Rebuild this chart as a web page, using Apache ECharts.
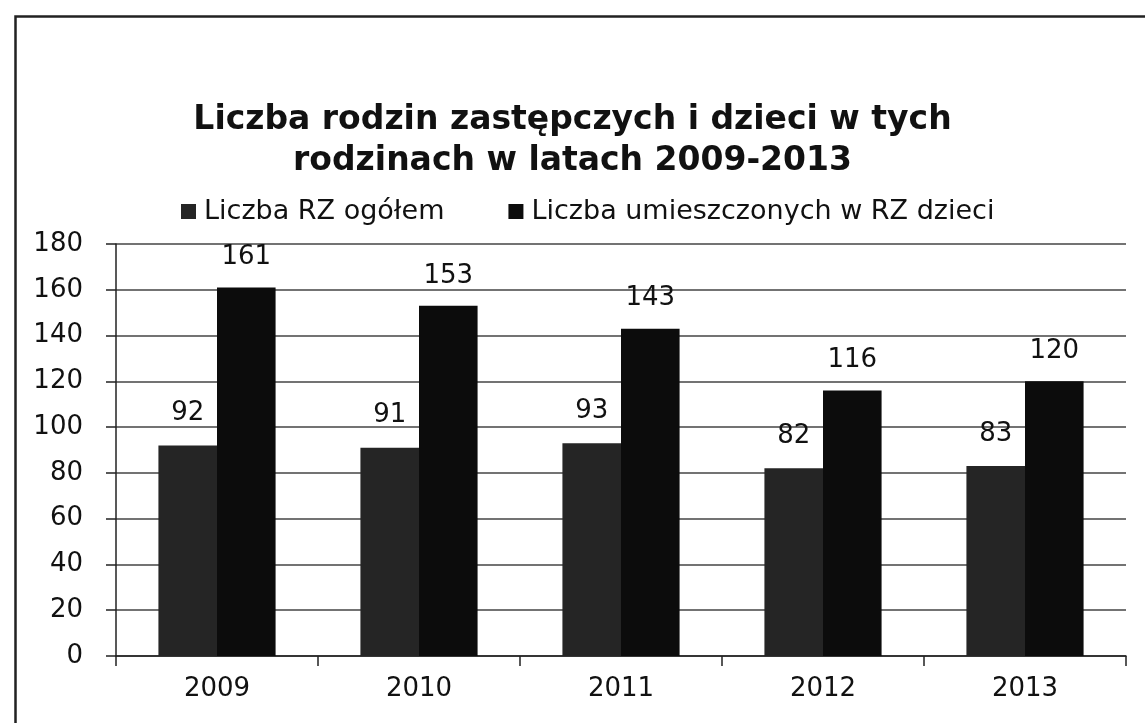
<!DOCTYPE html>
<html>
<head>
<meta charset="utf-8">
<script src="https://cdn.jsdelivr.net/npm/echarts@6/dist/echarts.min.js"></script>
<style>
  html, body { margin: 0; padding: 0; background: #fff; }
  #chart { width: 1145px; height: 723px; }
</style>
</head>
<body>
<div id="chart"></div>
<script>
// lata i wartosci
var years = ['2009', '2010', '2011', '2012', '2013'];
var rodziny = [92, 91, 93, 82, 83];
var dzieci = [161, 153, 143, 116, 120];

var font = 'DejaVu Sans';

var chart = echarts.init(document.getElementById('chart'));

var option = {
  backgroundColor: '#fff',
  animation: false,
  title: {
    text: 'Liczba rodzin zastępczych i dzieci w tych\nrodzinach w latach 2009-2013',
    left: 'center',
    top: 95,
    textStyle: {
      fontFamily: font,
      fontWeight: 'bold',
      fontSize: 33,
      lineHeight: 41,
      color: '#111'
    }
  },
  legend: {
    top: 193,
    left: 176,
    itemWidth: 15,
    itemHeight: 15,
    itemGap: 64,
    icon: 'rect',
    textStyle: { fontFamily: font, fontSize: 27, color: '#111', padding: [0, 0, 0, 3] },
    data: ['Liczba RZ ogółem', 'Liczba umieszczonych w RZ dzieci']
  },
  grid: {
    left: 116,
    right: 19,
    top: 244,
    bottom: 67
  },
  xAxis: {
    type: 'category',
    data: years,
    axisLine: { lineStyle: { color: '#222', width: 1.5 } },
    axisTick: { show: true, length: 10, lineStyle: { color: '#222', width: 1.5 } },
    axisLabel: { fontFamily: font, fontSize: 26, color: '#111', margin: 20 }
  },
  yAxis: {
    type: 'value',
    min: 0,
    max: 180,
    interval: 20,
    axisLine: { show: true, lineStyle: { color: '#222', width: 1.5 } },
    axisTick: { show: true, length: 10, lineStyle: { color: '#222', width: 1.5 } },
    axisLabel: { fontFamily: font, fontSize: 26, color: '#111', margin: 33 },
    splitLine: { show: true, lineStyle: { color: '#444', width: 1.5 } }
  },
  series: [
    {
      name: 'Liczba RZ ogółem',
      type: 'bar',
      data: rodziny,
      barGap: '0%',
      barCategoryGap: '42%',
      itemStyle: { color: '#252525' },
      label: { show: true, position: 'top', distance: 19, fontFamily: font, fontSize: 26, color: '#111' }
    },
    {
      name: 'Liczba umieszczonych w RZ dzieci',
      type: 'bar',
      data: dzieci,
      barGap: '0%',
      barCategoryGap: '42%',
      itemStyle: { color: '#0c0c0c' },
      label: { show: true, position: 'top', distance: 17, fontFamily: font, fontSize: 26, color: '#111' }
    }
  ],
  graphic: [
    {
      type: 'rect',
      left: 13,
      top: 14,
      shape: { width: 1200, height: 800 },
      style: { fill: 'none', stroke: '#222', lineWidth: 2.5 },
      silent: true
    }
  ]
};

chart.setOption(option);
</script>
</body>
</html>
